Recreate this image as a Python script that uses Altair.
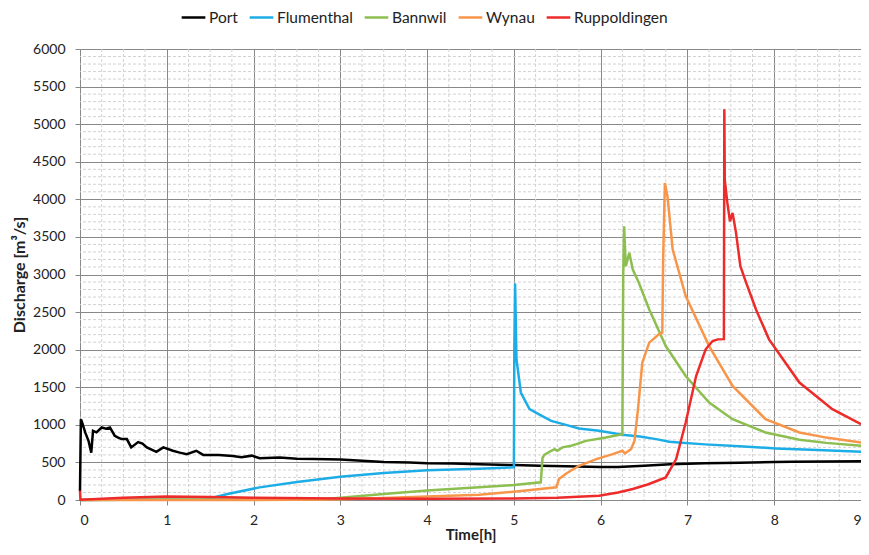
import altair as alt
import pandas as pd

series_names = ["Port", "Flumenthal", "Bannwil", "Wynau", "Ruppoldingen"]
series_colors = ["#000000", "#1DADE6", "#8CBE50", "#F7964A", "#EE2B2B"]

port_t = [0, 0.01, 0.02, 0.06, 0.10, 0.13, 0.15, 0.19, 0.25, 0.30, 0.345, 0.40, 0.44, 0.48, 0.54,
          0.59, 0.67, 0.72, 0.77, 0.88, 0.96, 1.07, 1.15, 1.23, 1.34, 1.42, 1.6, 1.76, 1.86, 1.98,
          2.07, 2.3, 2.5, 2.7, 3.0, 3.3, 3.5, 3.8, 4.0, 4.3, 4.6, 5.0, 5.3, 5.6, 6.0, 6.2, 6.5,
          6.8, 7.2, 7.6, 8.0, 8.2, 8.6, 9.0]
port_q = [120, 1075, 1050, 900, 780, 630, 920, 900, 965, 950, 965, 855, 830, 810, 810,
          700, 770, 750, 700, 640, 700, 655, 630, 610, 655, 600, 600, 585, 570, 590,
          555, 565, 550, 545, 540, 520, 505, 500, 490, 485, 475, 465, 455, 450, 440, 440, 455,
          475, 490, 495, 505, 510, 512, 515]

flum_t = [0, 1.0, 1.46, 1.7, 2.07, 2.5, 3.0, 3.5, 4.0, 4.6, 5.0, 5.005, 5.014, 5.03, 5.08, 5.18,
          5.29, 5.43, 5.6, 5.75, 5.98, 6.25, 6.45, 6.64, 6.79, 6.9, 7.2, 7.6, 8.02, 8.5, 9.0]
flum_q = [0, 5, 10, 80, 168, 240, 310, 360, 395, 415, 434, 2000, 2880, 1870, 1430, 1208,
          1140, 1053, 1000, 951, 920, 867, 845, 810, 774, 766, 740, 715, 686, 665, 641]

bann_t = [0, 1, 2, 2.8, 3.0, 3.5, 4.0, 4.6, 5.0, 5.31, 5.33, 5.35, 5.43, 5.47, 5.5, 5.56, 5.66,
          5.72, 5.83, 6.06, 6.25, 6.26, 6.27, 6.29, 6.33, 6.37, 6.44, 6.56, 6.75, 6.98, 7.25,
          7.52, 7.9, 8.29, 8.6, 9.0]
bann_q = [0, 5, 5, 10, 30, 80, 125, 168, 200, 235, 560, 600, 655, 677, 655, 700, 721,
          743, 787, 832, 876, 3000, 3641, 3110, 3288, 3066, 2890, 2535, 2048, 1650, 1297,
          1075, 898, 801, 760, 721]

wyn_t = [0, 1, 2, 2.9, 3.5, 4.0, 4.6, 5.0, 5.49, 5.52, 5.6, 5.75, 5.95, 6.14, 6.25, 6.28, 6.35,
         6.39, 6.43, 6.48, 6.56, 6.67, 6.71, 6.72, 6.74, 6.77, 6.83, 6.98, 7.25, 7.52, 7.9,
         8.29, 8.6, 9.0]
wyn_q = [0, 0, 0, 5, 25, 45, 70, 110, 170, 280, 350, 455, 544, 611, 655, 620, 677,
         787, 1208, 1828, 2093, 2204, 2226, 3200, 4217, 4040, 3332, 2712, 2048, 1517, 1075,
         898, 830, 766]

rup_t = [0, 0.005, 0.5, 1.0, 1.5, 2, 3, 4, 5, 5.5, 5.98, 6.2, 6.37, 6.55, 6.75, 6.87, 6.98, 7.1,
         7.21, 7.29, 7.35, 7.42, 7.425, 7.43, 7.46, 7.49, 7.52, 7.56, 7.61, 7.67, 7.79, 7.94,
         8.02, 8.29, 8.67, 9.0]
rup_q = [124, 5, 30, 45, 40, 30, 20, 15, 20, 30, 57, 100, 146, 210, 301, 544, 1031, 1650,
         2005, 2115, 2137, 2140, 5200, 4261, 3952, 3708, 3819, 3554, 3110, 2911, 2535, 2137,
         2005, 1562, 1208, 1009]

x_ticks = list(range(0, 10))
y_ticks = list(range(0, 6001, 500))

rows = []
for name, ts, qs in zip(series_names,
                        [port_t, flum_t, bann_t, wyn_t, rup_t],
                        [port_q, flum_q, bann_q, wyn_q, rup_q]):
    for i, (t, q) in enumerate(zip(ts, qs)):
        rows.append({"series": name, "t": t, "Q": q, "i": i})
df = pd.DataFrame(rows)

minor_x = pd.DataFrame({"t": [k * 0.25 for k in range(37) if k % 4 != 0]})
minor_y = pd.DataFrame({"Q": [k * 100 for k in range(61) if k % 5 != 0]})

xscale = alt.Scale(domain=[0, 9], nice=False, zero=False)
yscale = alt.Scale(domain=[0, 6000], nice=False)

FONT = "Lato"

xaxis = alt.Axis(values=x_ticks, title="Time[h]", format="d", grid=True,
                 gridColor="#888888", gridWidth=1, domainColor="#888888",
                 tickColor="#888888", tickSize=5, labelPadding=8,
                 labelFont=FONT, labelFontSize=14, labelColor="#222",
                 titleFont=FONT, titleFontSize=15, titleFontWeight="bold",
                 titleColor="#222", titleY=42, titleBaseline="bottom")
yaxis = alt.Axis(values=y_ticks, title="Discharge [m³/s]", format="d", grid=True,
                 gridColor="#888888", gridWidth=1, domainColor="#888888",
                 tickColor="#888888", tickSize=5, labelPadding=10,
                 labelFont=FONT, labelFontSize=14, labelColor="#222",
                 titleFont=FONT, titleFontSize=16, titleFontWeight="bold",
                 titleColor="#222", titlePadding=5)

lines = alt.Chart(df).mark_line(strokeWidth=2.5).encode(
    x=alt.X("t:Q", scale=xscale, axis=xaxis),
    y=alt.Y("Q:Q", scale=yscale, axis=yaxis),
    color=alt.Color("series:N", sort=series_names,
                    scale=alt.Scale(domain=series_names, range=series_colors),
                    legend=alt.Legend(title=None, orient="none", legendX=100, legendY=-45,
                                      direction="horizontal", symbolType="stroke",
                                      symbolStrokeWidth=2.5, symbolSize=560,
                                      labelFont=FONT, labelFontSize=15.5, labelColor="#222",
                                      labelOffset=2, columnPadding=6)),
    order=alt.Order("i:Q"),
)

mx = alt.Chart(minor_x).mark_rule(color="#d2d2d2", strokeDash=[3, 2], strokeWidth=1).encode(
    x=alt.X("t:Q", scale=xscale, axis=xaxis))
my = alt.Chart(minor_y).mark_rule(color="#d2d2d2", strokeDash=[3, 2], strokeWidth=1).encode(
    y=alt.Y("Q:Q", scale=yscale, axis=yaxis))

chart = alt.layer(mx, my, lines).properties(
    width=781, height=451,
    autosize=alt.AutoSizeParams(type="none"),
    padding={"left": 72, "top": 41, "right": 0, "bottom": 43},
).configure_view(stroke=None)

chart.save("out.html", embed_options={"renderer": "svg", "actions": False})
